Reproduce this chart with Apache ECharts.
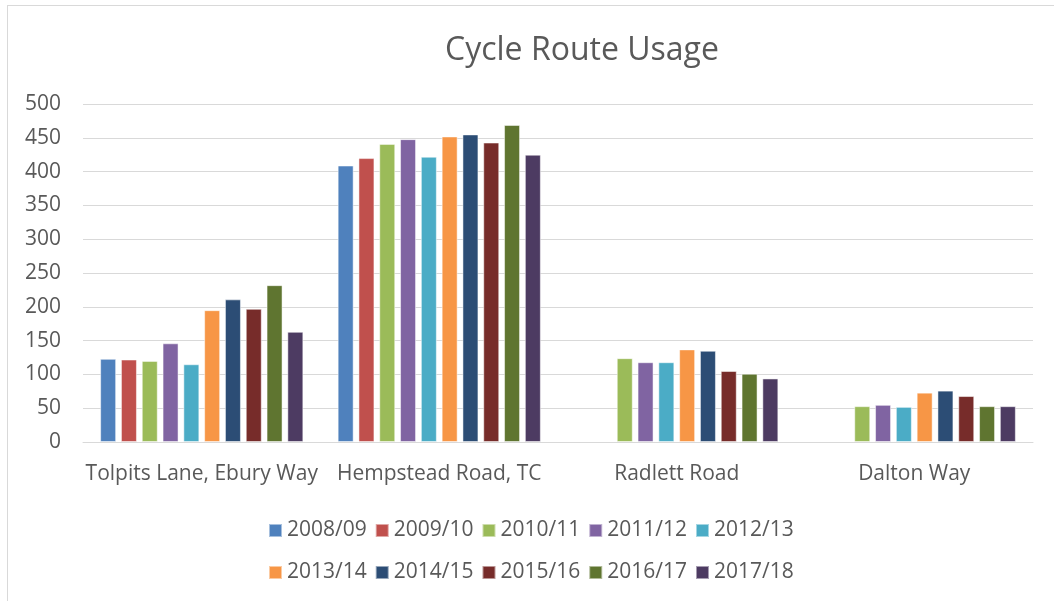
<!DOCTYPE html>
<html>
<head>
<meta charset="utf-8">
<script src="https://cdn.jsdelivr.net/npm/echarts@6/dist/echarts.min.js"></script>
<style>
  html, body { margin: 0; padding: 0; background: #fff; }
  #frame { position: absolute; left: 7px; top: 5px; width: 1060px; height: 620px; border: 1px solid #d9d9d9; }
  #chart { position: absolute; left: 0; top: 0; width: 1054px; height: 601px; }
</style>
</head>
<body>
<div id="frame"></div>
<div id="chart"></div>
<script>
const routes = ['Tolpits Lane, Ebury Way', 'Hempstead Road, TC', 'Radlett Road', 'Dalton Way'];
const years = ['2008/09', '2009/10', '2010/11', '2011/12', '2012/13',
               '2013/14', '2014/15', '2015/16', '2016/17', '2017/18'];
const colors = ['#4F81BD', '#C0504D', '#9BBB59', '#8064A2', '#4BACC6',
                '#F79646', '#2C4D75', '#772C2A', '#5F7530', '#4D3B62'];

// one array per year: Tolpits, Hempstead, Radlett, Dalton
const y2008 = [123, 409, null, null];
const y2009 = [122, 420, null, null];
const y2010 = [120, 441, 124, 53];
const y2011 = [146, 448, 118, 55];
const y2012 = [115, 422, 118, 52];
const y2013 = [195, 452, 137, 73];
const y2014 = [211, 455, 135, 76];
const y2015 = [197, 443, 105, 68];
const y2016 = [232, 469, 101, 53];
const y2017 = [163, 425, 94, 53];
const yearData = [y2008, y2009, y2010, y2011, y2012, y2013, y2014, y2015, y2016, y2017];

const font = 'Open Sans';
const textColor = '#595959';

let chart = echarts.init(document.getElementById('chart'));
let legendBase = {
  icon: 'rect',
  itemWidth: 13,
  itemHeight: 13,
  itemGap: 8,
  left: 263,
  textStyle: { fontFamily: font, fontSize: 21, color: textColor }
};
let option = {
  animation: false,
  color: colors,
  title: {
    text: 'Cycle Route Usage',
    left: 440,
    top: 30,
    textStyle: { fontFamily: font, fontSize: 32, fontWeight: 'normal', color: textColor }
  },
  legend: [
    Object.assign({}, legendBase, { top: 515, data: years.slice(0, 5) }),
    Object.assign({}, legendBase, { top: 557, data: years.slice(5) })
  ],
  grid: { left: 83, right: 21, top: 104, bottom: 159 },
  xAxis: {
    type: 'category',
    data: routes,
    axisLine: { lineStyle: { color: '#d9d9d9', width: 1 } },
    axisTick: { show: false },
    axisLabel: { interval: 0, fontFamily: font, fontSize: 21, color: textColor, margin: 22 }
  },
  yAxis: {
    type: 'value',
    min: 0,
    max: 500,
    interval: 50,
    axisLine: { show: false },
    axisTick: { show: false },
    splitLine: { lineStyle: { color: '#d9d9d9', width: 1 } },
    axisLabel: { fontFamily: font, fontSize: 21, color: textColor, margin: 22 }
  },
  series: years.map((name, i) => ({
    name: name,
    type: 'bar',
    barWidth: 16,
    barGap: '30%',
    itemStyle: { borderColor: 'rgba(255,255,255,0.5)', borderWidth: 1 },
    data: yearData[i]
  }))
};
chart.setOption(option);
</script>
</body>
</html>
